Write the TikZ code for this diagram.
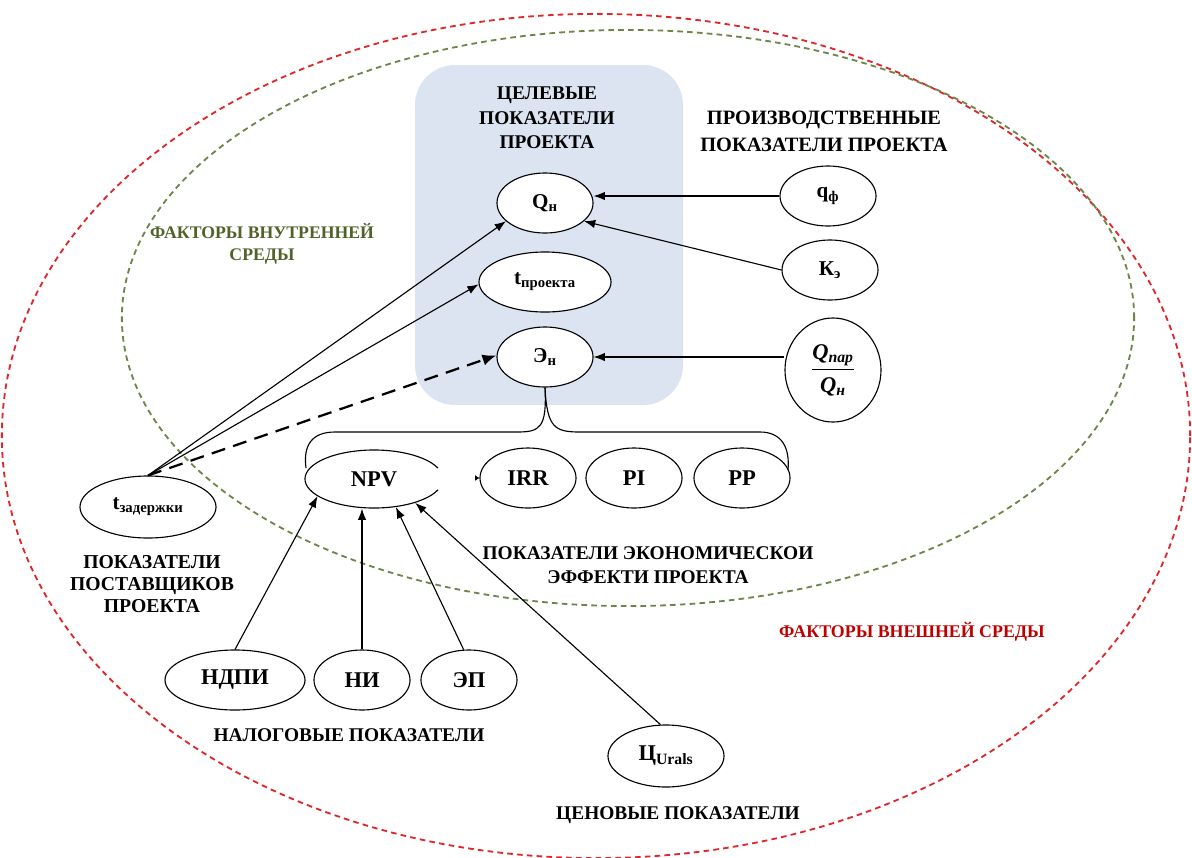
\documentclass[tikz,border=0pt]{standalone}
\usepackage{fontspec}
\setmainfont{Liberation Serif}
\usetikzlibrary{shapes.geometric,arrows.meta}
\definecolor{boxblue}{HTML}{DBE4F0}
\definecolor{outred}{HTML}{E0262A}
\definecolor{ingreen}{HTML}{6E8548}
\definecolor{textgreen}{HTML}{4F6228}
\definecolor{textred}{HTML}{C00000}
\tikzset{
  oval/.style={ellipse, draw, line width=0.8pt, fill=white, inner sep=0pt,
    minimum width=2.4cm, minimum height=1.5cm, font=\bfseries\fontsize{16}{16}\selectfont},
  arr/.style={line width=0.8pt, -{Latex[length=8pt,width=6pt]}},
  lbl/.style={align=center, font=\bfseries\fontsize{13.8}{17.5}\selectfont},
}
\begin{document}
\begin{tikzpicture}[x=0.025cm,y=-0.025cm]
    \useasboundingbox (0,0) rectangle (1192,857);
    \draw[outred, line width=1.3pt, dash pattern=on 4pt off 3pt] (596,436) ellipse [x radius=14.85cm, y radius=10.55cm];
    \draw[ingreen, line width=1.3pt, dash pattern=on 4pt off 3pt] (628,318) ellipse [x radius=12.65cm, y radius=7.2cm];
    \fill[boxblue, rounded corners=1cm] (415,65) rectangle (683,405);

    \node(goal)[lbl, font=\bfseries\fontsize{13.8}{17.4}\selectfont] at (547,118) {ЦЕЛЕВЫЕ\\ПОКАЗАТЕЛИ\\ПРОЕКТА};
    \node(prod)[lbl, font=\bfseries\fontsize{14.5}{19}\selectfont] at (824,131) {ПРОИЗВОДСТВЕННЫЕ\\ПОКАЗАТЕЛИ ПРОЕКТА};
    \node(inner)[lbl, text=textgreen, font=\bfseries\fontsize{12.6}{15.5}\selectfont] at (262,244) {ФАКТОРЫ ВНУТРЕННЕЙ\\СРЕДЫ};
    \node(outer)[lbl, text=textred, font=\bfseries\fontsize{12.7}{13}\selectfont] at (912,632) {ФАКТОРЫ ВНЕШНЕЙ СРЕДЫ};
    \node(supp)[lbl, font=\bfseries\fontsize{14}{15.5}\selectfont] at (152,584) {ПОКАЗАТЕЛИ\\ПОСТАВЩИКОВ\\ПРОЕКТА};
    \node(econ)[lbl] at (648,565) {ПОКАЗАТЕЛИ ЭКОНОМИЧЕСКОИ\\ЭФФЕКТИ ПРОЕКТА};
    \node(tax)[lbl] at (349,735) {НАЛОГОВЫЕ ПОКАЗАТЕЛИ};
    \node(price)[lbl] at (678,815) {ЦЕНОВЫЕ ПОКАЗАТЕЛИ};

    \node(qn)[oval, font=\bfseries\fontsize{15}{15}\selectfont] at (545,203) {Q\textsubscript{н}};
    \node(tp)[oval, minimum width=3.3cm, font=\bfseries\fontsize{15}{15}\selectfont] at (545,282) {t\textsubscript{проекта}};
    \node(en)[oval, font=\bfseries\fontsize{15}{15}\selectfont] at (545,357) {Э\textsubscript{н}};
    \node(qf)[oval, font=\bfseries\fontsize{15}{15}\selectfont] at (828,196) {q\textsubscript{ф}};
    \node(ke)[oval, font=\bfseries\fontsize{15}{15}\selectfont] at (830,270) {К\textsubscript{э}};
    \node(qp)[oval, minimum height=2.6cm, font=\bfseries\fontsize{16}{16}\selectfont] at (833,370)
      {$\displaystyle\frac{\mbox{\itshape Q\textsubscript{пар}}}{\mbox{\itshape Q\textsubscript{н}}}$};

    \node(npv)[oval, draw=none, fill=none, minimum width=3.45cm, minimum height=1.45cm] at (374,479) {NPV};
    \node(irr)[oval] at (528,478) {IRR};
    \node(pi)[oval] at (634,478) {PI};
    \node(pp)[oval] at (742,478) {PP};
    \node(tz)[oval, minimum width=3.4cm, minimum height=1.55cm, font=\bfseries\fontsize{15}{15}\selectfont] at (148,507) {t\textsubscript{задержки}};

    \node(ndpi)[oval, minimum width=3.5cm] at (235,680) {НДПИ};
    \node(ni)[oval] at (362,680) {НИ};
    \node(ep)[oval] at (469,680) {ЭП};
    \node(ts)[oval, minimum width=2.9cm, minimum height=1.55cm] at (666,756) {Ц\textsubscript{Urals}};

    \draw[line width=0.8pt] (npv.center) ++(22:1.725cm and 0.725cm) arc[start angle=22, end angle=338, x radius=1.725cm, y radius=0.725cm];
    \draw[line width=0.8pt] (en.south) .. controls (547,428) and (540,432) .. (517,432) -- (335,432) .. controls (312,432) and (303,445) .. (306,468);
    \draw[line width=0.8pt] (en.south) .. controls (547,428) and (555,432) .. (580,432) -- (760,432) .. controls (782,432) and (790,448) .. (788,470);
    \draw[-{Latex[length=3pt,width=4pt]}] ([xshift=-0.12cm]irr.west) -- (irr.west);

    \draw[arr] (qf.west) -- (qf.west -| qn.east);
    \draw[arr] (ke.west) -- (qn.-25);
    \draw[arr] (qp.west |- en.east) -- (en.east);

    \draw[arr] (tz.north) -- (qn.205);
    \draw[arr] (tz.north) -- (tp.182);
    \draw[line width=1.6pt, dash pattern=on 10pt off 6pt, -{Latex[length=10pt,width=8pt]}] (tz.north) -- (en.178);

    \draw[arr] (ndpi.north) -- (npv.-163);
    \draw[arr] (ni.north) -- (ni.north |- npv.south);
    \draw[arr] (ep.100) -- (npv.-52);
    \draw[arr] (ts.100) -- (npv.-30);
\end{tikzpicture}
\end{document}
